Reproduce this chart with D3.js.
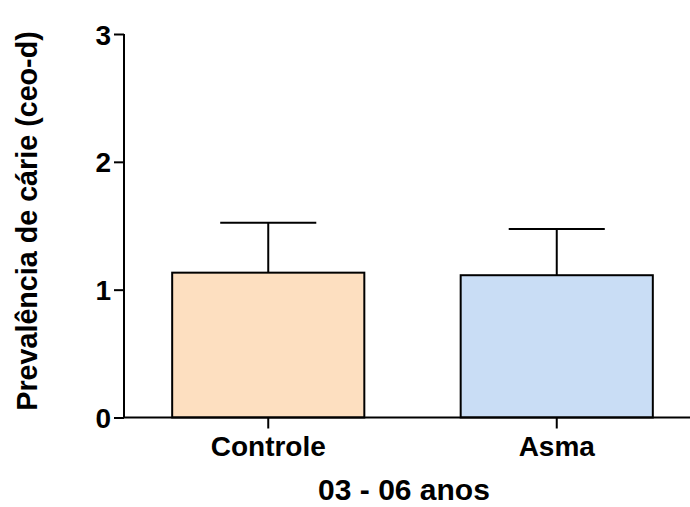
<!DOCTYPE html>
<html>
<head>
<meta charset="utf-8">
<script src="https://cdn.jsdelivr.net/npm/d3@7"></script>
<style>
body{margin:0;background:#fff;}
text{font-family:"Liberation Sans",Arial,sans-serif;font-weight:bold;fill:#000;}
</style>
</head>
<body>
<svg id="chart" width="690" height="507"></svg>
<script>
// data
const categories = ["Controle", "Asma"];
const means = [1.133, 1.113];
const errors = [0.39, 0.362];
const colors = ["#FDDFC0", "#C9DDF5"];
const yTicks = [0, 1, 2, 3];

const svg = d3.select("#chart");

const y = d3.scaleLinear().domain([0, 3]).range([417.5, 34]);
const x = d3.scaleBand().domain(categories).range([124, 701]).padding(0);
const barW = x.bandwidth() * 0.666;

const g = svg.append("g").attr("id", "gMain");

// bars
g.selectAll("rect.bar")
	.data(categories)
	.enter()
	.append("rect")
	.attr("class", "bar")
	.attr("x", d => x(d) + x.bandwidth() / 2 - barW / 2)
	.attr("y", (d, i) => y(means[i]))
	.attr("width", barW)
	.attr("height", (d, i) => y(0) - y(means[i]))
	.attr("fill", (d, i) => colors[i])
	.attr("stroke", "#000")
	.attr("stroke-width", 2);

// error bars (upper only)
for (var i = 0; i < categories.length; i++) {
	let cx = x(categories[i]) + x.bandwidth() / 2;
	let top = y(means[i] + errors[i]);
	g.append("line")
		.attr("x1", cx).attr("x2", cx)
		.attr("y1", y(means[i])).attr("y2", top)
		.attr("stroke", "#000").attr("stroke-width", 2);
	g.append("line")
		.attr("x1", cx - barW / 4).attr("x2", cx + barW / 4)
		.attr("y1", top).attr("y2", top)
		.attr("stroke", "#000").attr("stroke-width", 2);
}

// y axis
const yAxis = d3.axisLeft(y).tickValues(yTicks).tickFormat(d3.format("d")).tickSize(10).tickPadding(3);
const gy = svg.append("g").attr("transform", "translate(124,0)").call(yAxis);
gy.select(".domain").remove();
gy.append("line").attr("x1", 0).attr("x2", 0).attr("y1", y(3)).attr("y2", y(0))
	.attr("stroke", "#000").attr("stroke-width", 2);
gy.selectAll(".tick line").attr("stroke", "#000").attr("stroke-width", 2);
gy.selectAll(".tick text").style("font-size", "28px").attr("dy", "0.36em");

// x axis
const xAxis = d3.axisBottom(x).tickSize(11).tickPadding(8);
const gx = svg.append("g").attr("transform", "translate(0," + y(0) + ")").call(xAxis);
gx.select(".domain").remove();
gx.append("line").attr("x1", 123).attr("x2", 690).attr("y1", 0).attr("y2", 0)
	.attr("stroke", "#000").attr("stroke-width", 2);
gx.selectAll(".tick line").attr("stroke", "#000").attr("stroke-width", 2);
gx.selectAll(".tick text").style("font-size", "28px");

// titles
svg.append("text")
	.attr("x", 404).attr("y", 500)
	.attr("text-anchor", "middle")
	.style("font-size", "30px")
	.text("03 - 06 anos");

svg.append("text")
	.attr("transform", "translate(37,221) rotate(-90)")
	.attr("text-anchor", "middle")
	.style("font-size", "28.7px")
	.text("Prevalência de cárie (ceo-d)");
</script>
</body>
</html>
